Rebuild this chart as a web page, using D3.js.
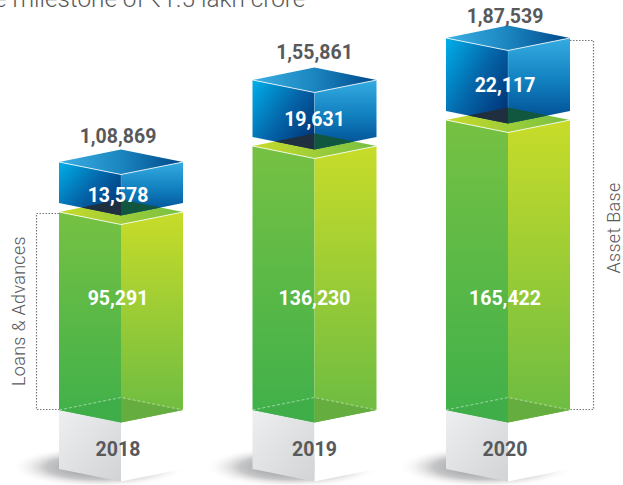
<!DOCTYPE html>
<html>
<head>
<meta charset="utf-8">
<script src="https://cdnjs.cloudflare.com/ajax/libs/d3/7.8.5/d3.min.js"></script>
<style>
   html, body { margin: 0; padding: 0; background: #fff; overflow: hidden; }
   text { font-family: Roboto, sans-serif; }
   .value { font-weight: 700; font-size: 19.5px; text-anchor: middle; }
</style>
</head>
<body>
<div id="chart"></div>
<script>
// Values
const years = ["2018", "2019", "2020"]
const loans = [95291, 136230, 165422]
const buffers = [13578, 19631, 22117]
const totalLabels = ["1,08,869", "1,55,861", "1,87,539"]
const loanLabels = ["95,291", "136,230", "165,422"]
const bufferLabels = ["13,578", "19,631", "22,117"]
const heading = "e milestone of ₹1.5 lakh crore"
const leftTitle = "Loans & Advances"
const rightTitle = "Asset Base"

// Tunables
const width = 623, height = 485
const halfWidth = 62   // half a block, corner to centre edge
const depth = 12.5     // vertical offset of the isometric corners
const baseY = 410
const plinth = 59      // height of the white year block
const gap = 9          // corner of blue block to corner of green block

// The blocks in the original are not to a single scale, so the scales are piecewise
const x = d3.scalePoint().domain(years).range([121, 508])
const yLoan = d3.scaleLinear().domain(loans).range([212, 146, 120])
const hBuffer = d3.scaleLinear().domain(buffers).range([41, 57, 73])

// Hand placed label nudges, the original is not regular here
const labelShift = {2018: -3, 2019: 0, 2020: -3}
const totalLift = {2018: 6.5, 2019: 8.5, 2020: 3}
const bufferDrop = {2018: 19, 2019: 17, 2020: 17}

const svg = d3.select("#chart").append("svg")
   .attr("width", width)
   .attr("height", height)
   .style("display", "block")

const defs = svg.append("defs")

function gradient(id, coords, stops) {
   const g = defs.append("linearGradient").attr("id", id)
      .attr("x1", coords[0]).attr("y1", coords[1])
      .attr("x2", coords[2]).attr("y2", coords[3])
   stops.forEach(function(s) {
      g.append("stop").attr("offset", s[0]).attr("stop-color", s[1])
   })
}

gradient("blueLeft", [0, 0.1, 1, 0.9], [[0, "#00a9e4"], [0.5, "#0465a8"], [1, "#002f74"]])
gradient("blueRight", [0, 0, 0, 1], [[0, "#35ace2"], [0.5, "#1180bf"], [1, "#004a90"]])
gradient("blueTop", [0, 0, 1, 0], [[0, "#3bb0e4"], [0.5, "#1b85bf"], [1, "#00478a"]])
gradient("greenLeft", [0, 0, 0, 1], [[0, "#76c143"], [1, "#3fb04a"]])
gradient("greenRight", [0, 0, 0, 1], [[0, "#c8dc29"], [1, "#6abb43"]])
gradient("greenTop", [0, 0, 1, 0], [[0, "#c9da2a"], [0.45, "#a3cf36"], [1, "#74bf44"]])
gradient("plinthLeft", [0, 0, 1, 1], [[0, "#eeeff0"], [1, "#d2d3d5"]])

const shadow = defs.append("radialGradient").attr("id", "shadow")
shadow.append("stop").attr("offset", 0).attr("stop-color", "#6d6e71").attr("stop-opacity", 0.9)
shadow.append("stop").attr("offset", 0.6).attr("stop-color", "#97989b").attr("stop-opacity", 0.55)
shadow.append("stop").attr("offset", 1).attr("stop-color", "#fff").attr("stop-opacity", 0)

const line = d3.line()

function face(g, points, fill) {
   return g.append("path").attr("d", line(points) + "Z").attr("fill", fill)
}

function edge(g, points) {
   return g.append("path").attr("d", line(points))
      .attr("fill", "none").attr("stroke", "#fff").attr("stroke-width", 0.8)
}

years.forEach(function(year, i) {
   const cx = x(year)
   const l = cx - halfWidth, r = cx + halfWidth
   const g = svg.append("g")

   // Shadow and year block
   g.append("ellipse")
      .attr("cx", cx - 22).attr("cy", 467)
      .attr("rx", 88).attr("ry", 21)
      .attr("fill", "url(#shadow)")

   face(g, [[l, baseY], [cx, baseY + depth], [cx, baseY + depth + plinth], [l, baseY + plinth]], "url(#plinthLeft)")
   face(g, [[cx, baseY + depth], [r, baseY], [r, baseY + plinth], [cx, baseY + depth + plinth]], "#fff")

   // Green block
   const yg = yLoan(loans[i])
   face(g, [[l, yg], [cx, yg + depth], [cx, baseY + depth], [l, baseY]], "url(#greenLeft)")
   face(g, [[cx, yg + depth], [r, yg], [r, baseY], [cx, baseY + depth]], "url(#greenRight)")

   // Floor seen through the block
   face(g, [[l, baseY], [cx, baseY - depth], [cx, baseY + depth]], "#3fae49")
   face(g, [[cx, baseY - depth], [r, baseY], [cx, baseY + depth]], "#66ad40")
   edge(g, [[l, baseY], [cx, baseY - depth], [r, baseY]])
      .attr("stroke-dasharray", "3,2").attr("stroke-opacity", 0.6)

   face(g, [[l, yg], [cx, yg - depth], [r, yg], [cx, yg + depth]], "url(#greenTop)")
   edge(g, [[l, yg], [cx, yg + depth], [r, yg]])

   // Blue block
   const yb = yg - gap
   const yt = yb - hBuffer(buffers[i])
   face(g, [[l, yt], [cx, yt + depth], [cx, yb + depth], [l, yb]], "url(#blueLeft)")
   face(g, [[cx, yt + depth], [r, yt], [r, yb], [cx, yb + depth]], "url(#blueRight)")
   face(g, [[l, yt], [cx, yt - depth], [r, yt], [cx, yt + depth]], "url(#blueTop)")
   edge(g, [[l, yt], [cx, yt + depth], [r, yt]])
   edge(g, [[cx, yt + depth], [cx, yb + depth]]).attr("stroke-opacity", 0.25)

   // Where the blue block overlaps the green top
   const run = gap / (2 * depth / halfWidth)
   const ym = yb + run * depth / halfWidth
   face(g, [[cx - halfWidth + run, ym], [cx, yg - depth], [cx, yb + depth]], "#1f2f3f")
   face(g, [[cx, yg - depth], [cx + halfWidth - run, ym], [cx, yb + depth]], "#11573f")

   // Labels
   const tx = cx + labelShift[year]
   g.append("text").attr("class", "value").attr("x", tx).attr("y", yt - depth - totalLift[year])
      .attr("fill", "#58595b").text(totalLabels[i])
   g.append("text").attr("class", "value").attr("x", tx).attr("y", (yt + yb) / 2 + bufferDrop[year])
      .attr("fill", "#fff").text(bufferLabels[i])
   g.append("text").attr("class", "value").attr("x", tx).attr("y", 305)
      .attr("fill", "#fff").text(loanLabels[i])
   g.append("text").attr("class", "value").attr("x", tx).attr("y", 456)
      .attr("fill", "#58595b").text(year)
})

// Dotted brackets
function bracket(points) {
   svg.append("path").attr("d", line(points))
      .attr("fill", "none")
      .attr("stroke", "#77787b")
      .attr("stroke-width", 1.2)
      .attr("stroke-dasharray", "1.5,1.5")
}
bracket([[59, 213.5], [36.5, 213.5], [36.5, 409.5], [59, 409.5]])
bracket([[570, 40.5], [593.5, 40.5], [593.5, 409.5], [570, 409.5]])

function sideTitle(text, tx, ty) {
   svg.append("text")
      .attr("transform", "translate(" + tx + "," + ty + ") rotate(-90)")
      .attr("text-anchor", "middle")
      .attr("font-size", 18)
      .attr("font-weight", 300)
      .attr("letter-spacing", 0.3)
      .attr("fill", "#58595b")
      .text(text)
}
sideTitle(leftTitle, 24.5, 311)
sideTitle(rightTitle, 620, 228)

// Heading, cut off by the crop of the original
svg.append("text")
   .attr("x", -6).attr("y", 7)
   .attr("font-size", 24.3)
   .attr("font-weight", 300)
   .attr("fill", "#58595b")
   .text(heading)
</script>
</body>
</html>
